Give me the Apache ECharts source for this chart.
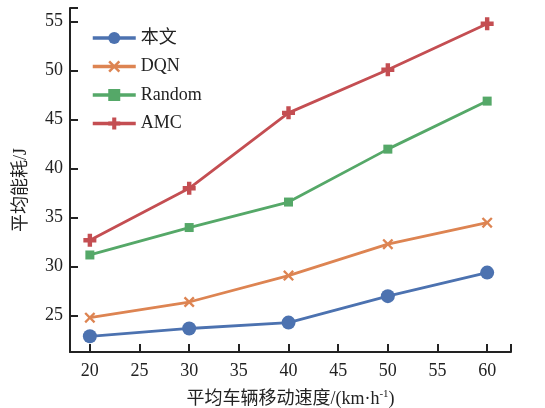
<!DOCTYPE html>
<html>
<head>
<meta charset="utf-8">
<script src="https://cdn.jsdelivr.net/npm/echarts@6/dist/echarts.min.js"></script>
<style>
  html, body { margin: 0; padding: 0; background: #fff; }
  #chart { width: 545px; height: 408px; }
</style>
</head>
<body>
<div id="chart"></div>
<script>
// 数据
const speeds = [20, 30, 40, 50, 60];
const seriesNames = ['本文', 'DQN', 'Random', 'AMC'];
const oursData = [22.9, 23.7, 24.3, 27.0, 29.4];
const dqnData = [24.8, 26.4, 29.1, 32.3, 34.5];
const randomData = [31.2, 34.0, 36.6, 42.0, 46.9];
const amcData = [32.7, 38.0, 45.7, 50.1, 54.8];
const xTicks = [20, 25, 30, 35, 40, 45, 50, 55, 60];
const yTicks = [25, 30, 35, 40, 45, 50, 55];

const xMin = 18, xMax = 62.4;
const yMin = 21.3, yMax = 56.4;

const colors = ['#4c72b0', '#dd8452', '#55a868', '#c44e52'];
const serif = '"Liberation Serif", "Noto Sans CJK SC", serif';

const plusPath = 'path://M3.3,0H6.7V3.3H10V6.7H6.7V10H3.3V6.7H0V3.3H3.3Z';
const crossPath = 'path://M1.5,0L5,3.5L8.5,0L10,1.5L6.5,5L10,8.5L8.5,10L5,6.5L1.5,10L0,8.5L3.5,5L0,1.5Z';

function pairs(arr) {
  return speeds.map(function (s, i) { return [s, arr[i]] })
}

function makeSeries(name, data, color, symbol, size) {
  return {
    name: name,
    type: 'line',
    data: pairs(data),
    symbol: symbol,
    symbolSize: size,
    showAllSymbol: true,
    lineStyle: { color: color, width: 2.8 },
    itemStyle: { color: color, borderWidth: 0 },
    emphasis: { disabled: true }
  }
}

let chart = echarts.init(document.getElementById('chart'));
let option = {
  backgroundColor: '#ffffff',
  animation: false,
  legend: {
    data: seriesNames,
    orient: 'vertical',
    left: 86,
    top: 24,
    itemWidth: 43,
    itemHeight: 15,
    itemGap: 10.5,
    lineStyle: { width: 3.5 },
    textStyle: { fontFamily: serif, fontSize: 18, color: '#222' }
  },
  grid: { left: 70, top: 8, right: 34, bottom: 56, outerBoundsMode: 'none' },
  xAxis: {
    type: 'value',
    min: xMin,
    max: xMax,
    name: '平均车辆移动速度/(km·h{sup|-1})',
    nameLocation: 'middle',
    nameGap: 37,
    nameTextStyle: {
      fontFamily: serif, fontSize: 18, color: '#222',
      rich: { sup: { fontFamily: serif, fontSize: 11, color: '#222', verticalAlign: 'top', padding: [0, 0, 9, 0] } }
    },
    splitLine: { show: false },
    axisLine: { lineStyle: { color: '#222', width: 2 } },
    axisTick: { inside: true, length: 8, lineStyle: { color: '#222', width: 2 }, customValues: xTicks.concat([xMax]) },
    axisLabel: { customValues: xTicks, margin: 10, fontFamily: serif, fontSize: 18, color: '#222' }
  },
  yAxis: {
    type: 'value',
    min: yMin,
    max: yMax,
    name: '平均能耗/J',
    nameLocation: 'middle',
    nameGap: 40,
    nameTextStyle: { fontFamily: serif, fontSize: 18, color: '#222', padding: [0, 20, 0, 0] },
    splitLine: { show: false },
    axisLine: { lineStyle: { color: '#222', width: 2 } },
    axisTick: { inside: true, length: 8, lineStyle: { color: '#222', width: 2 }, customValues: yTicks.concat([yMax]) },
    axisLabel: { customValues: yTicks, margin: 7, fontFamily: serif, fontSize: 18, color: '#222' }
  },
  series: [
    makeSeries(seriesNames[0], oursData, colors[0], 'circle', 14),
    makeSeries(seriesNames[1], dqnData, colors[1], crossPath, 11),
    makeSeries(seriesNames[2], randomData, colors[2], 'rect', 9),
    makeSeries(seriesNames[3], amcData, colors[3], plusPath, 13)
  ]
}
chart.setOption(option)
</script>
</body>
</html>
